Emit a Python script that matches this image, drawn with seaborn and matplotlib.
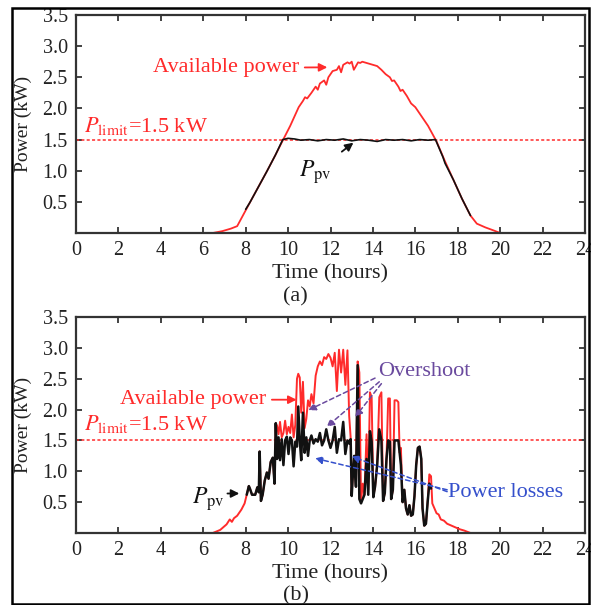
import matplotlib
matplotlib.use("Agg")
import matplotlib.pyplot as plt
import matplotlib.patches as mpatches
import seaborn as sns
import numpy as np
import pandas as pd

nan = np.nan

# ---------------- panel (a): power limited at 1.5 kW ----------------
a_avail_t = [6.45, 6.9, 7.3, 7.6, 7.9, 8.2, 8.6, 9.0, 9.4, 9.8, 10.1, 10.3, 10.5, 10.7,
             10.8, 10.9, 11.1, 11.3, 11.4, 11.5, 11.7, 11.8, 11.9, 12.1, 12.3, 12.4,
             12.5, 12.6, 12.7, 12.8, 12.9, 13.0, 13.1, 13.3, 13.4, 13.5, 13.6, 13.8,
             14.0, 14.2, 14.4, 14.6, 14.8, 14.9, 15.0, 15.2, 15.3, 15.4, 15.6, 15.8,
             16.0, 16.3, 16.6, 17.0, 17.4, 17.8, 18.2, 18.6, 18.9, 19.3, 19.7, 20.0]
a_avail = [0.0, 0.03, 0.07, 0.11, 0.30, 0.49, 0.74, 0.99, 1.25, 1.52, 1.72, 1.87, 2.02, 2.12,
           2.18, 2.16, 2.25, 2.35, 2.30, 2.40, 2.45, 2.38, 2.50, 2.60, 2.62, 2.68,
           2.58, 2.70, 2.72, 2.74, 2.72, 2.75, 2.62, 2.74, 2.73, 2.75, 2.74, 2.72,
           2.70, 2.68, 2.62, 2.55, 2.50, 2.44, 2.45, 2.35, 2.28, 2.30, 2.20, 2.08,
           2.02, 1.87, 1.72, 1.47, 1.15, 0.85, 0.55, 0.28, 0.15, 0.09, 0.04, 0.0]

a_ppv_t = [8.0, 8.2, 8.6, 9.0, 9.4, 9.75, 10.0, 10.3, 10.6, 11.0, 11.4, 11.8, 12.2, 12.6,
           13.0, 13.4, 13.8, 14.2, 14.6, 15.0, 15.4, 15.8, 16.2, 16.6, 16.95, 17.1,
           17.3, 17.4, 17.8, 18.2, 18.6]
a_ppv = [0.38, 0.49, 0.74, 0.99, 1.25, 1.50, 1.52, 1.51, 1.49, 1.50, 1.48, 1.50, 1.49, 1.51,
         1.48, 1.50, 1.49, 1.47, 1.50, 1.49, 1.50, 1.48, 1.50, 1.49, 1.50, 1.38,
         1.22, 1.12, 0.85, 0.55, 0.28]

# ---------------- panel (b): fluctuating irradiance ----------------
b_t = [6.45, 6.8, 7.1, 7.25, 7.35, 7.45, 7.6, 7.8, 7.95,
       8.05, 8.15, 8.2, 8.3, 8.45, 8.55, 8.62, 8.66, 8.72, 8.8, 8.9, 9.0, 9.08, 9.18,
       9.28, 9.36, 9.42, 9.48, 9.55, 9.62, 9.7, 9.78, 9.86, 9.94, 10.02, 10.1, 10.18,
       10.26, 10.34, 10.42, 10.48, 10.55, 10.62, 10.7, 10.78, 10.86, 10.94, 11.02,
       11.1, 11.2, 11.3, 11.4, 11.5, 11.6, 11.7, 11.8, 11.9, 12.0, 12.1, 12.2, 12.3,
       12.4, 12.5, 12.6, 12.7, 12.8, 12.88, 12.95, 13.0, 13.06, 13.12, 13.2, 13.28,
       13.36, 13.44, 13.52, 13.6, 13.7, 13.78, 13.86, 13.94, 14.02, 14.1, 14.2, 14.3,
       14.4, 14.48, 14.56, 14.64, 14.72, 14.8, 14.86, 14.94, 15.02, 15.12, 15.2, 15.26,
       15.32, 15.4, 15.48, 15.56, 15.64, 15.72, 15.8, 15.88, 15.96, 16.04, 16.12, 16.2,
       16.28, 16.34, 16.42, 16.5, 16.58, 16.66, 16.74,
       16.8, 16.9, 17.0, 17.1, 17.2, 17.35, 17.5, 17.7, 17.9, 18.1, 18.3, 18.6]
b_avail = [0.0, 0.05, 0.14, 0.22, 0.18, 0.24, 0.28, 0.38, 0.48,
           0.62, 0.76, 0.72, 0.62, 0.62, 0.74, 0.66, 1.32, 0.52, 0.62, 0.85, 0.98, 0.88, 1.15,
           1.22, 0.80, 1.78, 1.74, 1.60, 1.80, 1.55, 1.62, 1.82, 1.60, 1.72, 1.62, 1.92,
           1.55, 1.75, 2.50, 2.58, 2.52, 1.95, 2.45, 1.70, 1.85, 2.15, 2.05,
           2.25, 2.10, 2.55, 2.70, 2.78, 2.72, 2.85, 2.82, 2.90, 2.84, 2.70, 2.92, 2.30,
           2.97, 2.60, 2.97, 2.40, 2.96, 1.90, 1.55, 0.62, 0.98, 1.25, 0.75, 2.78,
           2.60, 0.50, 0.80, 0.62, 1.60, 0.70, 2.28, 2.20, 0.60, 0.75, 1.10, 2.20,
           2.28, 0.52, 0.65, 1.20, 2.18, 2.18, 0.55, 0.70, 2.15, 2.15, 2.12, 1.30,
           1.38, 0.50, 0.70, 0.40, 0.30, 0.45, 0.28, 0.30, 0.60, 1.10, 1.38, 1.40,
           1.20, 0.40, 0.12, 0.15, 0.50, 0.95, 0.92,
           0.48, 0.40, 0.32, 0.30, 0.22, 0.20, 0.15, 0.12, 0.09, 0.06, 0.04, 0.0]
b_ppv = [nan, nan, nan, nan, nan, nan, nan, nan, nan,
         0.62, 0.76, 0.72, 0.62, 0.62, 0.74, 0.66, 1.32, 0.52, 0.62, 0.85, 0.98, 0.88, 1.15,
         1.22, 0.80, 1.78, 1.20, 1.55, 1.18, 1.52, 1.10, 1.50, 1.56, 1.28, 1.55, 1.50,
         1.08, 1.48, 1.40, 2.05, 1.50, 1.18, 1.95, 1.30, 1.55, 1.25, 1.50,
         1.58, 1.45, 1.52, 1.48, 1.62, 1.42, 1.50, 1.68, 1.50, 1.38, 1.50, 1.72, 1.30,
         1.52, 1.50, 1.80, 1.28, 1.50, 1.45, 1.52, 0.60, 0.98, 1.25, 0.75, 2.72,
         0.55, 0.48, 0.55, 0.62, 1.20, 0.62, 1.65, 1.48, 0.58, 0.75, 1.10, 1.68,
         1.50, 0.52, 0.65, 1.20, 1.50, 1.48, 0.55, 0.70, 1.50, 1.50, 1.50, 1.30,
         1.10, 0.50, 0.70, 0.40, 0.30, 0.45, 0.28, 0.30, 0.60, 1.10, 1.38, 1.40,
         1.20, 0.40, 0.12, 0.15, 0.50, 0.80, 0.72,
         nan, nan, nan, nan, nan, nan, nan, nan, nan, nan, nan, nan]

p_limit = 1.5
x_ticks = list(range(0, 25, 2))
y_ticks = [0.5, 1.0, 1.5, 2.0, 2.5, 3.0, 3.5]

RED = "#ff2b2b"
BLACK = "#111111"
TXT = "#222222"
PURPLE = "#6a4a9e"
BLUE = "#3550cc"

sns.set_theme(style="ticks")
plt.rcParams["font.family"] = ["Liberation Serif", "DejaVu Serif"]
plt.rcParams["mathtext.fontset"] = "stix"

fig = plt.figure(figsize=(5.91, 6.05), dpi=100)
W, H = 591.0, 605.0
ax1 = fig.add_axes([76 / W, 1 - 233 / H, 509 / W, 218 / H])
ax2 = fig.add_axes([76 / W, 1 - 533 / H, 509 / W, 216 / H])

# frame around the whole figure
fig.patches.append(mpatches.Rectangle((12 / W, 1.5 / H), (589 - 12) / W, (604 - 8.5) / H,
                                      transform=fig.transFigure, fill=False,
                                      edgecolor="black", linewidth=1.8))

df_a1 = pd.DataFrame({"t": a_avail_t, "p": a_avail})
df_a2 = pd.DataFrame({"t": a_ppv_t, "p": a_ppv})
df_b = pd.DataFrame({"t": b_t, "avail": b_avail, "ppv": b_ppv})

sns.lineplot(data=df_a1, x="t", y="p", ax=ax1, color=RED, linewidth=1.3, estimator=None, sort=False)
sns.lineplot(data=df_a2, x="t", y="p", ax=ax1, color=BLACK, linewidth=1.2, estimator=None, sort=False)
sns.lineplot(data=df_b, x="t", y="avail", ax=ax2, color=RED, linewidth=1.4, estimator=None, sort=False)
sns.lineplot(data=df_b.dropna(), x="t", y="ppv", ax=ax2, color=BLACK, linewidth=1.8,
             estimator=None, sort=False)

FS = 16     # annotation / axis label text
TS = 14.5   # tick labels
for ax in (ax1, ax2):
    ax.axhline(p_limit, color=RED, linestyle=(0, (2, 1.5)), linewidth=1.1, zorder=1)
    ax.set_xlim(0, 24)
    ax.set_ylim(0, 3.5)
    ax.set_xticks(x_ticks)
    ax.set_yticks(y_ticks)
    ax.set_yticklabels([f"{v:.1f}" for v in y_ticks])
    ax.tick_params(direction="in", top=True, right=True, length=4, width=1.2,
                   labelsize=TS, colors=TXT, pad=6)
    for s in ax.spines.values():
        s.set_linewidth(1.6)
        s.set_color("#333333")
    ax.set_xlabel("Time (hours)", fontsize=FS, color=TXT, labelpad=3)
    ax.set_ylabel("Power (kW)", fontsize=14, color=TXT)
    ax.yaxis.set_label_coords(-0.086, 0.5)
    ax.text(0.4, 1.72 if ax is ax1 else 1.76, r"$P_{\rm limit}$=1.5 kW", color=RED,
            fontsize=FS, va="center", ha="left")

# annotations (a)
ax1.annotate("Available power", xy=(11.85, 2.66), xytext=(10.5, 2.65), color=RED,
             fontsize=FS, ha="right", va="center",
             arrowprops=dict(arrowstyle="-|>", color=RED, lw=1.3, mutation_scale=12,
                             shrinkA=2, shrinkB=0))
ax1.annotate(r"$P_{\rm pv}$", xy=(13.08, 1.45), xytext=(11.3, 0.98), color=BLACK,
             fontsize=FS + 1, ha="center", va="center",
             arrowprops=dict(arrowstyle="-|>", color=BLACK, lw=1.3, mutation_scale=12,
                             shrinkA=6, shrinkB=0))

# annotations (b)
ax2.annotate("Available power", xy=(10.4, 2.16), xytext=(8.95, 2.16), color=RED,
             fontsize=FS, ha="right", va="center",
             arrowprops=dict(arrowstyle="-|>", color=RED, lw=1.3, mutation_scale=12,
                             shrinkA=2, shrinkB=0))
ax2.annotate(r"$P_{\rm pv}$", xy=(7.7, 0.64), xytext=(5.45, 0.55), color=BLACK,
             fontsize=FS + 1, ha="left", va="center",
             arrowprops=dict(arrowstyle="-|>", color=BLACK, lw=1.3, mutation_scale=12,
                             shrinkA=0, shrinkB=0, relpos=(1.0, 0.7)))
ax2.text(16.4, 2.61, "Overshoot", color=PURPLE, fontsize=FS, ha="center", va="center")
for (x0, y0), (x1, y1) in [((14.1, 2.51), (10.95, 1.99)),
                           ((14.3, 2.45), (11.82, 1.72)),
                           ((14.4, 2.42), (13.16, 1.88))]:
    ax2.annotate("", xy=(x1, y1), xytext=(x0, y0),
                 arrowprops=dict(arrowstyle="-|>", color=PURPLE, lw=1.1, linestyle=(0, (3, 2)),
                                 mutation_scale=11, shrinkA=0, shrinkB=0))
ax2.text(17.55, 0.66, "Power losses", color=BLUE, fontsize=FS, ha="left", va="center")
for (x0, y0), (x1, y1) in [((17.5, 0.70), (11.27, 1.21)),
                           ((17.5, 0.67), (13.0, 1.24))]:
    ax2.annotate("", xy=(x1, y1), xytext=(x0, y0),
                 arrowprops=dict(arrowstyle="-|>", color=BLUE, lw=1.1, linestyle=(0, (3, 2)),
                                 mutation_scale=11, shrinkA=0, shrinkB=0))

fig.text(0.5, 1 - 297 / H, "(a)", ha="center", va="center", fontsize=FS, color=TXT)
fig.text(0.5, 1 - 596 / H, "(b)", ha="center", va="center", fontsize=FS, color=TXT)

fig.savefig("out.png", dpi=100)
